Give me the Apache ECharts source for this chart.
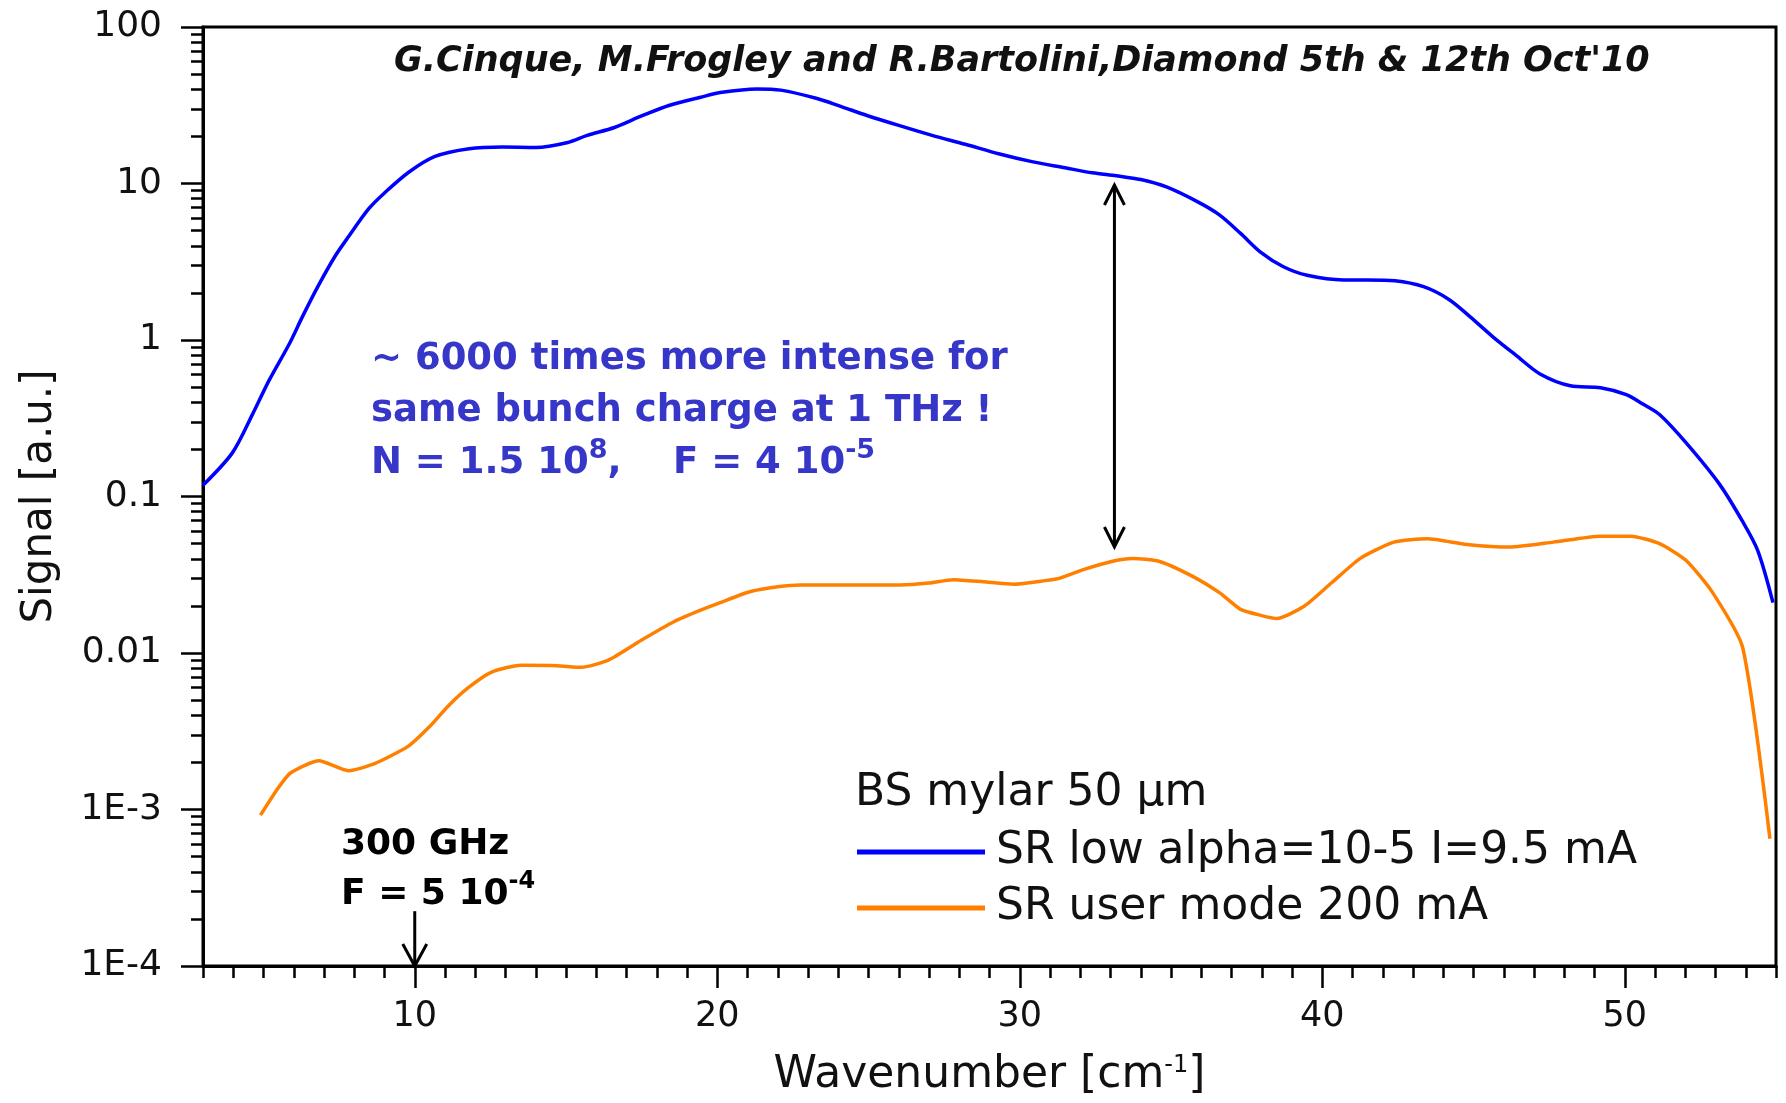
<!DOCTYPE html>
<html>
<head>
<meta charset="utf-8">
<script src="https://cdn.jsdelivr.net/npm/echarts@6/dist/echarts.min.js"></script>
<style>html,body{margin:0;padding:0;background:#fff}#c{width:1786px;height:1103px}</style>
</head>
<body>
<div id="c"></div>
<script>
// ---- data ----
const lowAlphaX = [3.0,3.97,4.62,5.18,5.86,6.28,6.8,7.37,7.82,8.48,9.0,9.8,10.67,11.8,12.9,14.0,15.06,15.7,16.6,17.5,18.4,19.45,20.1,21.3,22.1,23.3,24.1,24.95,26.0,27.1,28.2,29.3,30.4,31.5,32.4,33.2,34.0,34.85,35.9,36.6,37.3,37.97,38.7,39.5,40.7,41.5,42.4,43.35,44.2,44.9,45.66,46.4,47.2,48.2,49.2,50.05,50.6,51.15,52.03,53.13,53.9,54.4,54.9];
const lowAlphaY = [0.118,0.19,0.33,0.55,0.95,1.4,2.2,3.44,4.6,6.9,8.7,11.8,14.9,16.7,17.1,17.0,18.3,20.3,22.8,27,31.5,35.6,38.1,40.2,39.5,34.9,31.0,27.2,23.5,20.3,17.8,15.5,13.8,12.6,11.7,11.2,10.6,9.5,7.6,6.3,4.8,3.63,2.95,2.59,2.42,2.42,2.39,2.19,1.81,1.4,1.04,0.8,0.607,0.51,0.496,0.448,0.39,0.334,0.22,0.12,0.069,0.045,0.021];
const userModeX = [4.9,5.4,5.89,6.83,7.81,8.69,9.79,10.5,11.1,11.77,12.54,13.5,14.7,15.5,16.4,17.5,18.58,19.45,20.1,21.1,22.0,22.75,26.05,27.0,27.8,28.8,29.8,30.55,31.3,32.1,33.07,33.73,34.6,35.7,36.6,37.3,37.97,38.5,39.4,40.3,41.27,42.37,43.47,44.78,46.2,47.64,49.2,50.2,51.15,52.03,52.9,53.9,54.8];
const userModeY = [0.00092,0.0013,0.00171,0.00205,0.00177,0.00197,0.00254,0.0034,0.00457,0.006,0.00755,0.00835,0.0083,0.0081,0.009,0.0121,0.0159,0.0188,0.021,0.0247,0.0265,0.0272,0.0272,0.028,0.0294,0.0285,0.0275,0.0285,0.030,0.0341,0.0386,0.0402,0.0386,0.031,0.0243,0.019,0.0174,0.0166,0.0199,0.028,0.0404,0.0511,0.0537,0.0494,0.0475,0.0511,0.0558,0.0558,0.050,0.039,0.0244,0.0108,0.00065];
const seriesNames = ['SR low alpha=10-5 I=9.5 mA', 'SR user mode 200 mA'];
const xTickValues = [10, 20, 30, 40, 50];
const xTickLabels = ['10', '20', '30', '40', '50'];
const yTickValues = [1e-4, 1e-3, 0.01, 0.1, 1, 10, 100];
const yTickLabels = ['1E-4', '1E-3', '0.01', '0.1', '1', '10', '100'];
// arrows: [x1, y1, x2(tip), y2(tip), bothHeads]
const arrows = [
  [33.13, 9.78, 33.13, 0.0476, 1],
  [10, 2.24e-4, 10, 1e-4, 0]
];

// minor tick positions
const xMinor = [];
for (let v = 3; v <= 55; v++) xMinor.push(v);
const yMinor = [];
for (let k = -4; k <= 1; k++) for (let m = 2; m <= 9; m++) yMinor.push(m * Math.pow(10, k));

const FONT = "'DejaVu Sans', 'Liberation Sans', sans-serif";
const zip = (xs, ys) => xs.map((x, i) => [x, ys[i]]);

const chart = echarts.init(document.getElementById('c'), null, {renderer: 'canvas'});

function renderArrow(params, api) {
  const p1 = api.coord([api.value(0), api.value(1)]);
  const p2 = api.coord([api.value(2), api.value(3)]);
  const both = api.value(4) === 1;
  const L = both ? 20 : 22, W = both ? 10 : 12;
  const st = {stroke: '#000', lineWidth: 3, fill: null};
  function head(tip, from) {
    const dx = tip[0] - from[0], dy = tip[1] - from[1];
    const len = Math.hypot(dx, dy) || 1;
    const ux = dx / len, uy = dy / len;
    const bx = tip[0] - ux * L, by = tip[1] - uy * L;
    return {type: 'polyline', shape: {points: [[bx - uy * W, by + ux * W], [tip[0], tip[1]], [bx + uy * W, by - ux * W]]}, style: st};
  }
  const children = [{type: 'line', shape: {x1: p1[0], y1: p1[1], x2: p2[0], y2: p2[1]}, style: st}];
  children.push(head(p2, p1));
  if (both) children.push(head(p1, p2));
  return {type: 'group', children};
}

const option = {
  backgroundColor: '#fff',
  animation: false,
  title: {
    text: "G.Cinque, M.Frogley and R.Bartolini,Diamond 5th & 12th Oct'10",
    left: 389, top: 39,
    textStyle: {fontFamily: FONT, fontSize: 35, fontWeight: 'bold', fontStyle: 'italic', color: '#111'}
  },
  grid: {left: 203, right: 10, top: 27, bottom: 137, show: true, borderColor: '#000', borderWidth: 3, backgroundColor: 'transparent'},
  legend: {
    data: seriesNames,
    orient: 'vertical',
    left: 852, top: 825,
    icon: 'rect',
    itemWidth: 128, itemHeight: 5, itemGap: 12,
    textStyle: {fontFamily: FONT, fontSize: 44, lineHeight: 44, color: '#111', padding: [0, 0, 0, 6]}
  },
  xAxis: [
    {
      type: 'value', min: 3, max: 55, position: 'bottom',
      name: 'Wavenumber [cm{sup|-1}]', nameLocation: 'middle', nameGap: 88,
      nameTextStyle: {fontFamily: FONT, fontSize: 44, color: '#111', rich: {sup: {fontFamily: FONT, fontSize: 24, lineHeight: 24, verticalAlign: 'top', color: '#111'}}},
      axisLine: {show: true, lineStyle: {color: '#000', width: 3}},
      axisTick: {show: true, inside: false, length: 22, lineStyle: {color: '#000', width: 2.5}, customValues: xTickValues},
      axisLabel: {show: true, margin: 33, fontFamily: FONT, fontSize: 35, color: '#111', customValues: xTickValues,
        formatter: v => { const i = xTickValues.indexOf(Math.round(v)); return i >= 0 ? xTickLabels[i] : ''; }},
      splitLine: {show: false}
    },
    {
      type: 'value', min: 3, max: 55, position: 'bottom', offset: 0,
      axisLine: {show: false},
      axisTick: {show: true, inside: false, length: 12, lineStyle: {color: '#000', width: 2.5}, customValues: xMinor},
      axisLabel: {show: false},
      splitLine: {show: false}
    }
  ],
  yAxis: [
    {
      type: 'log', logBase: 10, min: 1e-4, max: 100, position: 'left',
      name: 'Signal [a.u.]', nameLocation: 'middle', nameGap: 142, nameRotate: 90,
      nameTextStyle: {fontFamily: FONT, fontSize: 42, color: '#111'},
      axisLine: {show: true, lineStyle: {color: '#000', width: 3}},
      axisTick: {show: true, inside: false, length: 22, lineStyle: {color: '#000', width: 2.5}, customValues: yTickValues},
      axisLabel: {show: true, margin: 41, fontFamily: FONT, fontSize: 36, color: '#111', customValues: yTickValues,
        formatter: v => { const e = Math.round(Math.log10(v)); const i = yTickValues.findIndex(t => Math.round(Math.log10(t)) === e); return i >= 0 ? yTickLabels[i] : ''; }},
      splitLine: {show: false}
    },
    {
      type: 'log', logBase: 10, min: 1e-4, max: 100, position: 'left', offset: 0,
      axisLine: {show: false},
      axisTick: {show: true, inside: false, length: 12, lineStyle: {color: '#000', width: 2.5}, customValues: yMinor},
      axisLabel: {show: false},
      splitLine: {show: false}
    }
  ],
  graphic: [
    {
      type: 'text', left: 371, top: 333, z: 10,
      style: {
        text: '~ 6000 times more intense for\nsame bunch charge at 1 THz !\nN = 1.5 10{sup|8},    F = 4 10{sup|-5}',
        fontFamily: FONT, fontSize: 37, fontWeight: 'bold', lineHeight: 52, fill: '#3636C8',
        rich: {sup: {fontFamily: FONT, fontSize: 27, lineHeight: 27, fontWeight: 'bold', verticalAlign: 'top', fill: '#3636C8'}}
      }
    },
    {
      type: 'text', left: 341, top: 820, z: 10,
      style: {
        text: '300 GHz\nF = 5 10{sup|-4}',
        fontFamily: FONT, fontSize: 36, fontWeight: 'bold', lineHeight: 50, fill: '#000',
        rich: {sup: {fontFamily: FONT, fontSize: 24, lineHeight: 24, fontWeight: 'bold', verticalAlign: 'top', fill: '#000'}}
      }
    },
    {
      type: 'text', left: 855, top: 772, z: 10,
      style: {text: 'BS mylar 50 \u03bcm', fontFamily: FONT, fontSize: 44, fill: '#111'}
    }
  ],
  series: [
    {
      name: seriesNames[0], type: 'line', xAxisIndex: 0, yAxisIndex: 0,
      data: zip(lowAlphaX, lowAlphaY), showSymbol: false, symbol: 'none', smooth: 0.3,
      lineStyle: {color: '#0000FF', width: 3.5}, itemStyle: {color: '#0000FF'}, z: 3
    },
    {
      name: seriesNames[1], type: 'line', xAxisIndex: 0, yAxisIndex: 0,
      data: zip(userModeX, userModeY), showSymbol: false, symbol: 'none', smooth: 0.2,
      lineStyle: {color: '#FF8000', width: 3.5}, itemStyle: {color: '#FF8000'}, z: 3
    },
    {
      name: 'arrows', type: 'custom', xAxisIndex: 0, yAxisIndex: 0,
      data: arrows, renderItem: renderArrow, clip: false, z: 5, silent: true
    }
  ]
};
chart.setOption(option);
</script>
</body>
</html>
